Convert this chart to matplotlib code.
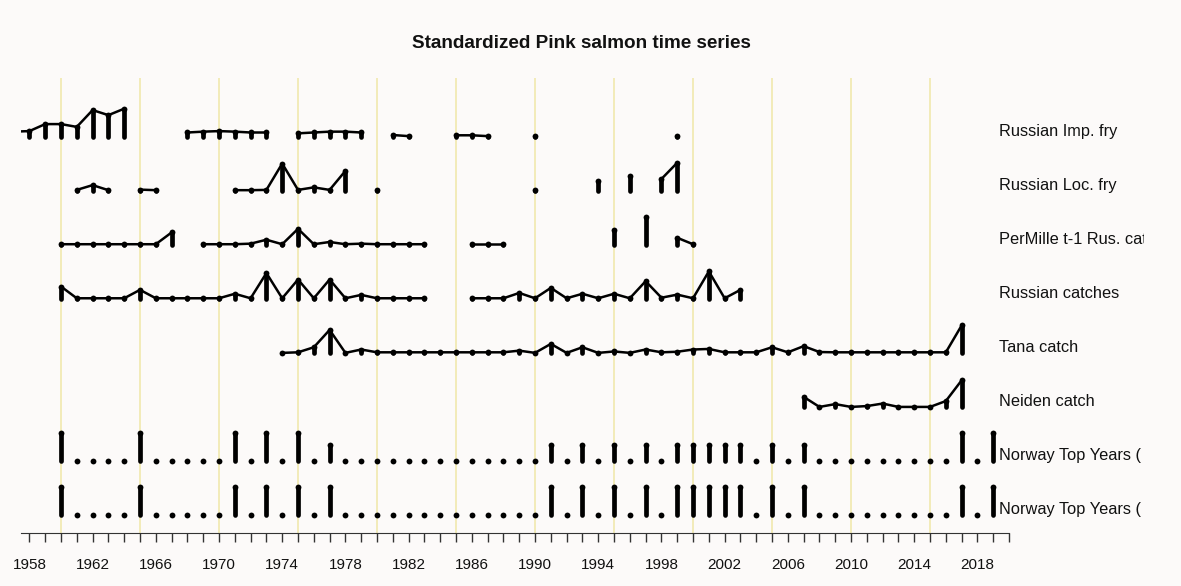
"""
Standardized Pink salmon time series: one row per series,
line through the values plus vertical spikes from each row baseline.
"""

import numpy as np
import matplotlib.pyplot as plt

plt.rcParams["font.family"] = ["Liberation Sans", "DejaVu Sans"]

# Series values (standardized, 0 = row baseline, 1 = row maximum).
imp_fry_years = [1957, 1958, 1959, 1960, 1961, 1962, 1963, 1964,
                 1968, 1969, 1970, 1971, 1972, 1973,
                 1975, 1976, 1977, 1978, 1979,
                 1981, 1982, 1985, 1986, 1987, 1990, 1999]
imp_fry = [0.18, 0.2, 0.45, 0.45, 0.35, 0.95, 0.77, 1.0,
           0.15, 0.18, 0.2, 0.18, 0.15, 0.15,
           0.12, 0.15, 0.18, 0.18, 0.15,
           0.06, 0.02, 0.05, 0.05, 0.02, 0.02, 0.02]

loc_fry_years = [1961, 1962, 1963, 1965, 1966,
                 1971, 1972, 1973, 1974, 1975, 1976, 1977, 1978,
                 1980, 1990, 1994, 1996, 1998, 1999]
loc_fry = [0.03, 0.2, 0.02, 0.04, 0.02,
           0.02, 0.02, 0.03, 0.97, 0.03, 0.12, 0.03, 0.71,
           0.03, 0.03, 0.35, 0.53, 0.42, 1.0]

permille_years = [1960, 1961, 1962, 1963, 1964, 1965, 1966, 1967,
                  1969, 1970, 1971, 1972, 1973, 1974, 1975, 1976, 1977,
                  1978, 1979, 1980, 1981, 1982, 1983,
                  1986, 1987, 1988, 1995, 1997, 1999, 2000]
permille = [0.02, 0.02, 0.02, 0.02, 0.02, 0.02, 0.02, 0.44,
            0.02, 0.02, 0.02, 0.04, 0.18, 0.02, 0.57, 0.02, 0.1,
            0.02, 0.04, 0.02, 0.02, 0.02, 0.02,
            0.02, 0.02, 0.02, 0.52, 1.0, 0.25, 0.02]

rus_catch_years = list(range(1960, 1984)) + list(range(1986, 2004))
rus_catch = [0.44, 0.02, 0.02, 0.02, 0.02, 0.32, 0.02, 0.02, 0.02, 0.02,
             0.02, 0.18, 0.02, 0.92, 0.02, 0.69, 0.02, 0.69, 0.02, 0.14,
             0.02, 0.02, 0.02, 0.02,
             0.02, 0.02, 0.02, 0.21, 0.02, 0.39, 0.02, 0.18, 0.02, 0.18,
             0.02, 0.63, 0.04, 0.15, 0.02, 0.98, 0.02, 0.32]

tana_years = list(range(1974, 2018))
tana = [0.0, 0.02, 0.2, 0.82, 0.0, 0.12, 0.02, 0.02, 0.02, 0.02,
        0.02, 0.02, 0.02, 0.02, 0.02, 0.08, 0.0, 0.32, 0.0, 0.2,
        0.0, 0.05, 0.0, 0.12, 0.02, 0.04, 0.12, 0.14, 0.02, 0.02,
        0.02, 0.2, 0.02, 0.24, 0.03, 0.02, 0.02, 0.02, 0.02, 0.02,
        0.02, 0.02, 0.02, 0.98]

neiden_years = list(range(2007, 2018))
neiden = [0.36, 0.0, 0.1, 0.0, 0.03, 0.12, 0.0, 0.0, 0.0, 0.21, 0.95]

norway_years = list(range(1960, 2020))
top_years = [1960, 1965, 1971, 1973, 1975, 1977, 1991, 1993, 1995, 1997,
             1999, 2000, 2001, 2002, 2003, 2005, 2007, 2017, 2019]
top_a = [1.0, 1.0, 1.0, 1.0, 1.0, 0.57, 0.57, 0.57, 0.57, 0.57,
         0.57, 0.57, 0.57, 0.57, 0.57, 0.57, 0.57, 1.0, 1.0]
top_b = [1.0] * len(top_years)

norway_a = [dict(zip(top_years, top_a)).get(y, 0.0) for y in norway_years]
norway_b = [dict(zip(top_years, top_b)).get(y, 0.0) for y in norway_years]

row_names = ["Russian Imp. fry", "Russian Loc. fry", "PerMille t-1 Rus. catch",
             "Russian catches", "Tana catch", "Neiden catch",
             "Norway Top Years ( 1 )", "Norway Top Years ( 2 )"]
rows = [
    (imp_fry_years, imp_fry, True),
    (loc_fry_years, loc_fry, True),
    (permille_years, permille, True),
    (rus_catch_years, rus_catch, True),
    (tana_years, tana, True),
    (neiden_years, neiden, True),
    (norway_years, norway_a, False),
    (norway_years, norway_b, False),
]

bg = "#FCFAF9"
scale = 0.518  # row height of a value of 1, in row-spacing units

fig = plt.figure(figsize=(11.81, 5.86), dpi=100, facecolor=bg)
ax = fig.add_axes([20.7 / 1181, 1 - 533 / 586, (1144 - 20.7) / 1181, (533 - 78) / 586])
ax.set_facecolor(bg)
ax.set_xlim(1957.45, 2028.54)
ax.set_ylim(-0.333, 8.086)

# Light yellow guide lines every five years.
for yr in range(1960, 2016, 5):
    ax.axvline(yr, color="#F0E8AE", lw=1.2, zorder=0)

for i, ((years, vals, joined), name) in enumerate(zip(rows, row_names)):
    base = 7 - i
    years = np.array(years)
    y = base + np.array(vals) * scale

    if joined:
        # Break the line where years are missing.
        breaks = np.where(np.diff(years) > 1)[0] + 1
        for idx in np.split(np.arange(len(years)), breaks):
            ax.plot(years[idx], y[idx], color="black", lw=1.8, zorder=3)

    ax.vlines(years, base, y, color="black", lw=3.4, capstyle="round", zorder=4)
    ax.plot(years, y, ls="none", marker="o", ms=4.2, mew=0, color="black", zorder=5)

    ax.text(2019.35, base + 0.105, name, fontsize=11.8, ha="left", va="center",
            color="#111111", clip_on=True)

for side in ["top", "right", "left"]:
    ax.spines[side].set_visible(False)
ax.spines["bottom"].set_bounds(1957.45, 2020)
ax.spines["bottom"].set_color("#333333")
ax.set_yticks([])
ax.set_xticks(range(1958, 2019, 4))
ax.set_xticks(range(1958, 2021), minor=True)
ax.tick_params(which="both", length=6.5, width=1, color="#333333", pad=11.5,
               labelsize=11, labelcolor="#111111")

fig.text(581 / 1181, 1 - 43 / 586, "Standardized Pink salmon time series",
         ha="center", va="center", fontsize=13.6, fontweight="bold", color="#111111")

plt.savefig("out.png", dpi=100, facecolor=bg)
plt.close()
